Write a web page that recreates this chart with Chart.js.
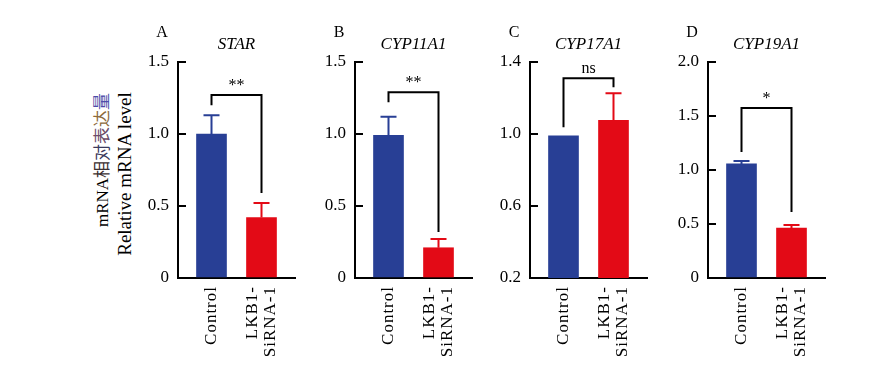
<!DOCTYPE html>
<html>
<head>
<meta charset="utf-8">
<script src="https://cdn.jsdelivr.net/npm/chart.js@4.4.1/dist/chart.umd.min.js"></script>
<style>
  html, body { margin: 0; padding: 0; background: #fff; }
  #wrap { position: relative; width: 888px; height: 376px; overflow: hidden; }
  .panel { position: absolute; top: 0; height: 376px; }
  .ytitle {
    position: absolute; white-space: nowrap; text-align: center;
    font-family: "Liberation Serif", "Noto Sans CJK SC", serif;
    font-size: 17px; line-height: 20px; color: #000;
    transform: rotate(-90deg); transform-origin: 50% 50%;
  }
</style>
</head>
<body>
<div id="wrap">
  <div class="ytitle" id="yt1">mRNA<span style="color:#3b3030">相</span><span style="color:#3a3a5c">对</span><span style="color:#6b4c6a">表</span><span style="color:#8c6a3c">达</span><span style="color:#4c4ca8">量</span></div>
  <div class="ytitle" id="yt2" style="font-size:19px">Relative mRNA level</div>
</div>
<script>
// groups on the x axis, one gene per panel
var groups = ['Control', ['LKB1-', 'SiRNA-1']];
var panelLetters = ['A', 'B', 'C', 'D'];
var genes = ['STAR', 'CYP11A1', 'CYP17A1', 'CYP19A1'];

// relative mRNA level, mean and SD
var controlMean = [1.00, 0.99, 0.99, 1.056];
var controlSd = [0.13, 0.13, 0, 0.027];
var sirnaMean = [0.42, 0.21, 1.076, 0.463];
var sirnaSd = [0.10, 0.06, 0.15, 0.027];

// y axis ranges / tick steps
var yMin = [0, 0, 0.2, 0];
var yMax = [1.5, 1.5, 1.4, 2.0];
var yStep = [0.5, 0.5, 0.4, 0.5];

// significance brackets (in y units)
var sigMarks = ['**', '**', 'ns', '*'];
var sigTop = [1.27, 1.29, 1.31, 1.574];
var sigLeftEnd = [1.20, 1.22, 1.037, 1.167];
var sigRightEnd = [0.59, 0.32, 1.26, 0.61];

var BLUE = '#283F95';
var RED = '#E30A16';
var FONT = '"Liberation Serif", "Times New Roman", serif';

// where each y axis sits on the page
var axisLeft = [178, 355, 530, 708];
var Y_AXIS_W = 60, PLOT_W = 117, PAD_R = 40;

Chart.defaults.color = '#000';
Chart.defaults.font.family = FONT;
Chart.defaults.font.size = 17;

// error bars, brackets, group labels, gene title and panel letter
var extras = {
    id: 'extras',
    afterDatasetsDraw: function(chart) {
        var i = chart.options.plugins.extras.panel;
        var ctx = chart.ctx;
        var xs = chart.scales.x, ys = chart.scales.y;
        var means = [controlMean[i], sirnaMean[i]];
        var sds = [controlSd[i], sirnaSd[i]];
        var cols = [BLUE, RED];
        var bars = chart.getDatasetMeta(0).data;

        ctx.save();
        ctx.lineWidth = 2;
        for (var k = 0; k < bars.length; k++) {
            if (!sds[k]) continue;
            var x = bars[k].x;
            var y0 = ys.getPixelForValue(means[k]);
            var y1 = ys.getPixelForValue(means[k] + sds[k]);
            ctx.strokeStyle = cols[k];
            ctx.beginPath();
            ctx.moveTo(x, y0);
            ctx.lineTo(x, y1);
            ctx.moveTo(x - 8, y1);
            ctx.lineTo(x + 8, y1);
            ctx.stroke();
        }

        // bracket
        var xl = xs.getPixelForValue(1), xr = xs.getPixelForValue(2);
        var yt = ys.getPixelForValue(sigTop[i]);
        ctx.strokeStyle = '#000';
        ctx.lineWidth = 2;
        ctx.beginPath();
        ctx.moveTo(xl, ys.getPixelForValue(sigLeftEnd[i]));
        ctx.lineTo(xl, yt);
        ctx.lineTo(xr, yt);
        ctx.lineTo(xr, ys.getPixelForValue(sigRightEnd[i]));
        ctx.stroke();

        ctx.fillStyle = '#000';
        ctx.textAlign = 'center';
        ctx.textBaseline = 'alphabetic';
        ctx.font = '16px ' + FONT;
        ctx.fillText(sigMarks[i], (xl + xr) / 2, yt - 5);

        ctx.font = 'italic 17px ' + FONT;
        ctx.fillText(genes[i], (xl + xr) / 2, 49);

        ctx.font = '16px ' + FONT;
        ctx.fillText(panelLetters[i], chart.chartArea.left - 16, 37);

        // rotated group labels under each bar
        ctx.font = '17px ' + FONT;
        ctx.letterSpacing = '1px';
        ctx.textAlign = 'right';
        ctx.textBaseline = 'middle';
        for (var g = 0; g < groups.length; g++) {
            var lines = [].concat(groups[g]);
            var gx = xs.getPixelForValue(g + 1);
            ctx.save();
            ctx.translate(gx, chart.chartArea.bottom + 8);
            ctx.rotate(-Math.PI / 2);
            for (var j = 0; j < lines.length; j++) {
                ctx.fillText(lines[j], 0, (j - (lines.length - 1) / 2) * 18);
            }
            ctx.restore();
        }
        ctx.restore();
    }
};

function makePanel(i) {
    var div = document.createElement('div');
    div.className = 'panel';
    var w = Y_AXIS_W + PLOT_W + PAD_R;
    div.style.left = (axisLeft[i] - Y_AXIS_W) + 'px';
    div.style.width = w + 'px';
    var cv = document.createElement('canvas');
    div.appendChild(cv);
    document.getElementById('wrap').appendChild(div);

    new Chart(cv, {
        type: 'bar',
        data: {
            datasets: [{
                data: [{ x: 1, y: controlMean[i] }, { x: 2, y: sirnaMean[i] }],
                backgroundColor: [BLUE, RED],
                borderWidth: 0,
                barThickness: 30
            }]
        },
        options: {
            responsive: true,
            maintainAspectRatio: false,
            animation: false,
            events: [],
            layout: { padding: { top: 62, right: PAD_R, bottom: 0, left: 0 } },
            plugins: {
                legend: { display: false },
                tooltip: { enabled: false },
                extras: { panel: i }
            },
            scales: {
                x: {
                    type: 'linear',
                    offset: false,
                    bounds: 'data',
                    min: 0.33,
                    max: 2.67,
                    afterBuildTicks: function(s) {
                        s.ticks = [{ value: 1 }, { value: 2 }];
                    },
                    afterFit: function(s) { s.height = 98; },
                    grid: { display: false, drawTicks: false, offset: false },
                    border: { display: true, color: '#000', width: 2 },
                    ticks: { display: false }
                },
                y: {
                    min: yMin[i],
                    max: yMax[i],
                    afterFit: function(s) { s.width = Y_AXIS_W; },
                    grid: {
                        drawOnChartArea: false,
                        drawTicks: true,
                        tickLength: -8,
                        color: '#000',
                        lineWidth: 2
                    },
                    border: { display: true, color: '#000', width: 2 },
                    ticks: {
                        stepSize: yStep[i],
                        padding: 17,
                        font: { size: 17 },
                        callback: function(v) {
                            return v === 0 ? '0' : v.toFixed(1);
                        }
                    }
                }
            }
        },
        plugins: [extras]
    });
}

for (var i = 0; i < 4; i++) {
    makePanel(i);
}

// place the rotated y title lines
function placeTitle(id, cx, cy) {
    var el = document.getElementById(id);
    var w = el.offsetWidth, h = el.offsetHeight;
    el.style.left = (cx - w / 2) + 'px';
    el.style.top = (cy - h / 2) + 'px';
}
placeTitle('yt1', 103, 160);
placeTitle('yt2', 125, 174);
</script>
</body>
</html>
